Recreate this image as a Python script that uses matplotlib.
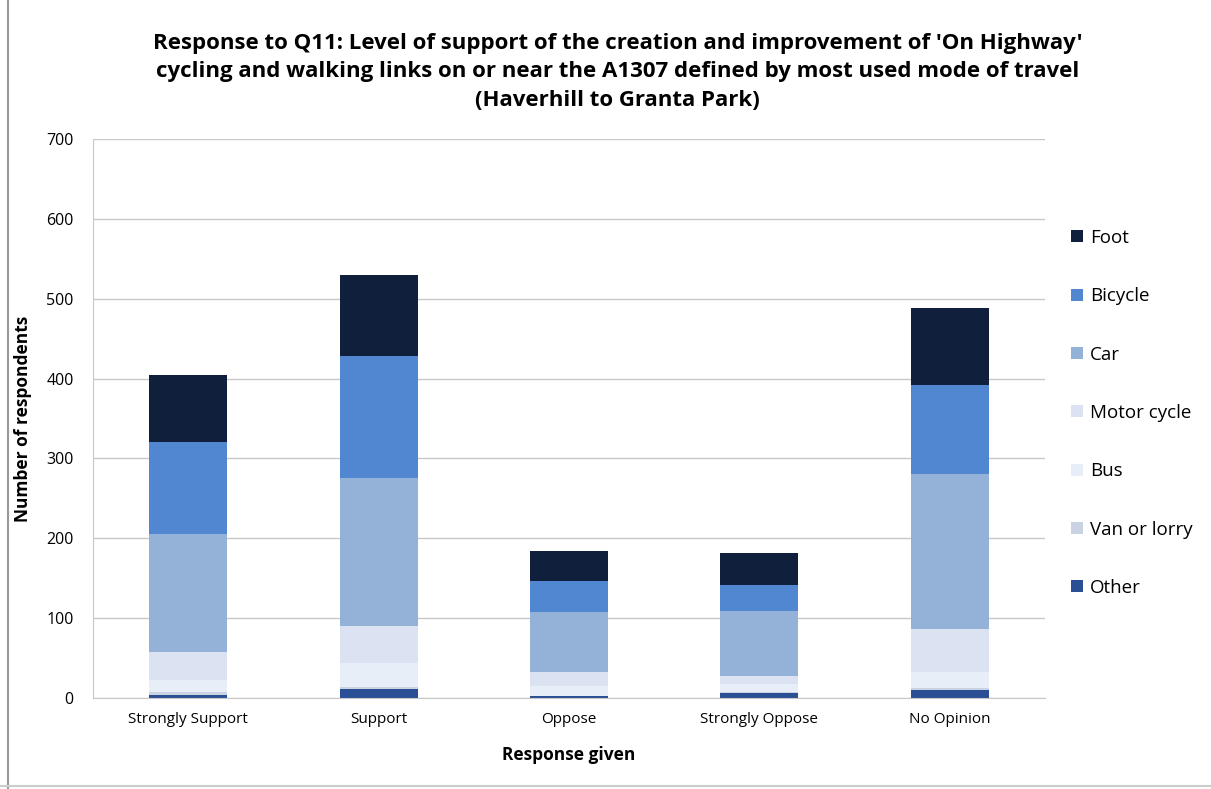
import numpy as np
import matplotlib.pyplot as plt
from matplotlib.lines import Line2D

### Data
responses = ['Strongly Support', 'Support', 'Oppose', 'Strongly Oppose', 'No Opinion']
modes = ['Other', 'Van or lorry', 'Bus', 'Motor cycle', 'Car', 'Bicycle', 'Foot']

other = [4, 11, 2, 6, 10]
van_or_lorry = [3, 3, 1, 2, 3]
bus = [15, 30, 12, 10, 20]
motor_cycle = [35, 46, 18, 9, 53]
car = [148, 186, 75, 82, 194]
bicycle = [116, 152, 38, 32, 112]
foot = [83, 102, 38, 40, 96]

series = [other, van_or_lorry, bus, motor_cycle, car, bicycle, foot]
colors = ['#2b4f95', '#c9d3e2', '#e8eef7', '#dbe2f2', '#94b1d8', '#5187d0', '#0f1f3c']

plt.rcParams['font.family'] = ['Open Sans', 'DejaVu Sans']

fig = plt.figure(figsize=(12.11, 7.89), dpi=100)
ax = fig.add_axes([93 / 1211, 1 - 698 / 789, (1045 - 93) / 1211, (698 - 139) / 789])

x = np.arange(len(responses))
bottom = np.zeros(len(responses))
for vals, col, name in zip(series, colors, modes):
    ax.bar(x, vals, width=0.41, bottom=bottom, color=col, label=name)
    bottom += np.array(vals)

#### Axes styling
ax.set_xlim(-0.5, 4.5)
ax.set_ylim(0, 700)
ax.set_yticks(range(0, 701, 100))
ax.set_xticks(x)
ax.set_xticklabels(responses, fontsize=11)
ax.tick_params(axis='y', labelsize=11.5, length=0, pad=14)
ax.tick_params(axis='x', length=0, pad=10)
ax.yaxis.grid(True, color='#c8c8c8', linewidth=1)
ax.set_axisbelow(True)
for s in ['top', 'right']:
    ax.spines[s].set_visible(False)
ax.spines['left'].set_color('#c8c8c8')
ax.spines['bottom'].set_color('#c8c8c8')

ax.set_ylabel('Number of respondents', fontsize=12.5, fontweight='bold', labelpad=10)
ax.set_xlabel('Response given', fontsize=12.5, fontweight='bold', labelpad=14)

fig.text(0.51, 0.958,
         "Response to Q11: Level of support of the creation and improvement of 'On Highway'\n"
         "cycling and walking links on or near the A1307 defined by most used mode of travel\n"
         "(Haverhill to Granta Park)",
         ha='center', va='top', fontsize=16, fontweight='bold', linespacing=1.45)

#### Legend (top to bottom: Foot ... Other)
handles, labels = ax.get_legend_handles_labels()
leg = ax.legend(handles[::-1], labels[::-1], loc='center left', bbox_to_anchor=(1.01, 0.51),
                frameon=False, fontsize=13.5, handlelength=0.6, handleheight=0.6,
                handletextpad=0.4, labelspacing=2.15)

#### Thin frame at the left and bottom of the picture
fig.add_artist(Line2D([8 / 1211, 8 / 1211], [0, 1], color='#999999', lw=1.5))
fig.add_artist(Line2D([0, 1], [3 / 789, 3 / 789], color='#cccccc', lw=1.5))

fig.savefig('out.png', dpi=100)
